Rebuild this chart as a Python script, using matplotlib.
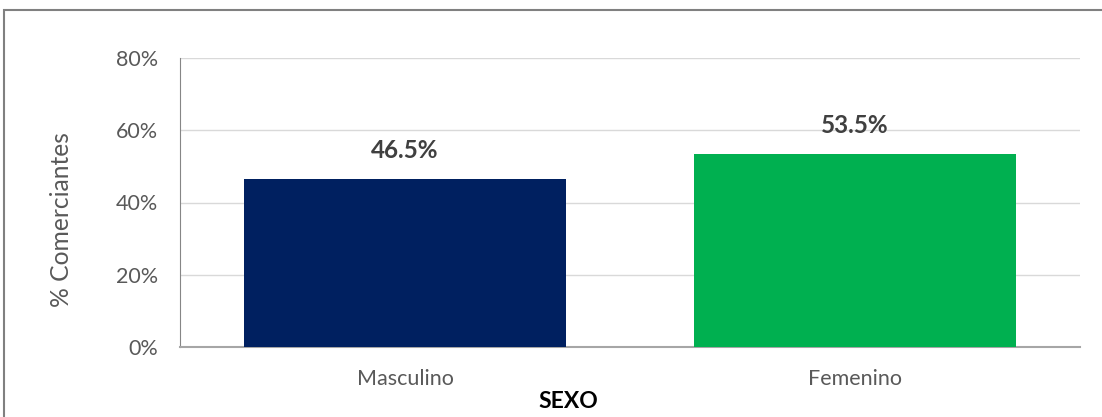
import matplotlib.pyplot as plt
from matplotlib.patches import Rectangle
from matplotlib.ticker import PercentFormatter

# Data
categorias = ["Masculino", "Femenino"]
porcentajes = [46.5, 53.5]
colores = ["#002060", "#00B050"]
y_ticks = [0, 20, 40, 60, 80]

plt.rcParams["font.family"] = ["Lato", "DejaVu Sans"]

fig = plt.figure(figsize=(11.02, 4.17), dpi=100)
ax = fig.add_axes([180 / 1102, 70 / 417, 900 / 1102, 289 / 417])

x = range(len(categorias))
bars = ax.bar(x, porcentajes, width=0.716, color=colores, zorder=3)

for b, v in zip(bars, porcentajes):
    ax.annotate(f"{v:.1f}%", (b.get_x() + b.get_width() / 2, v),
                xytext=(0, 12), textcoords="offset points",
                ha="center", va="bottom", fontsize=17.5, fontweight="bold",
                color="#404040")

ax.set_xlim(-0.5, 1.5)
ax.set_ylim(0, 80)
ax.set_yticks(y_ticks)
ax.yaxis.set_major_formatter(PercentFormatter(decimals=0))
ax.set_xticks(list(x))
ax.set_xticklabels(categorias)
ax.tick_params(axis="both", length=0, labelsize=15.5, colors="#595959")
ax.tick_params(axis="y", pad=16)
ax.tick_params(axis="x", pad=16)

ax.grid(axis="y", color="#D9D9D9", linewidth=1, zorder=0)
for s in ["top", "right"]:
    ax.spines[s].set_visible(False)
ax.spines["left"].set_color("#868686")
ax.spines["bottom"].set_color("#A6A6A6")
ax.spines["bottom"].set_linewidth(1.5)

ax.set_ylabel("% Comerciantes", fontsize=17.7, color="#595959")
ax.yaxis.set_label_coords(-107 / 900, 0.44)
fig.text(568 / 1102, 1 - 401 / 417, "SEXO", ha="center", va="center",
         fontsize=16.5, fontweight="bold", color="black")

# outer border of the chart area
fig.patches.append(Rectangle((4 / 1102, -0.1), 1.2, 0.1 + (417 - 10) / 417,
                             transform=fig.transFigure, fill=False,
                             edgecolor="#808080", linewidth=1.5))

fig.savefig("out.png", dpi=100)
